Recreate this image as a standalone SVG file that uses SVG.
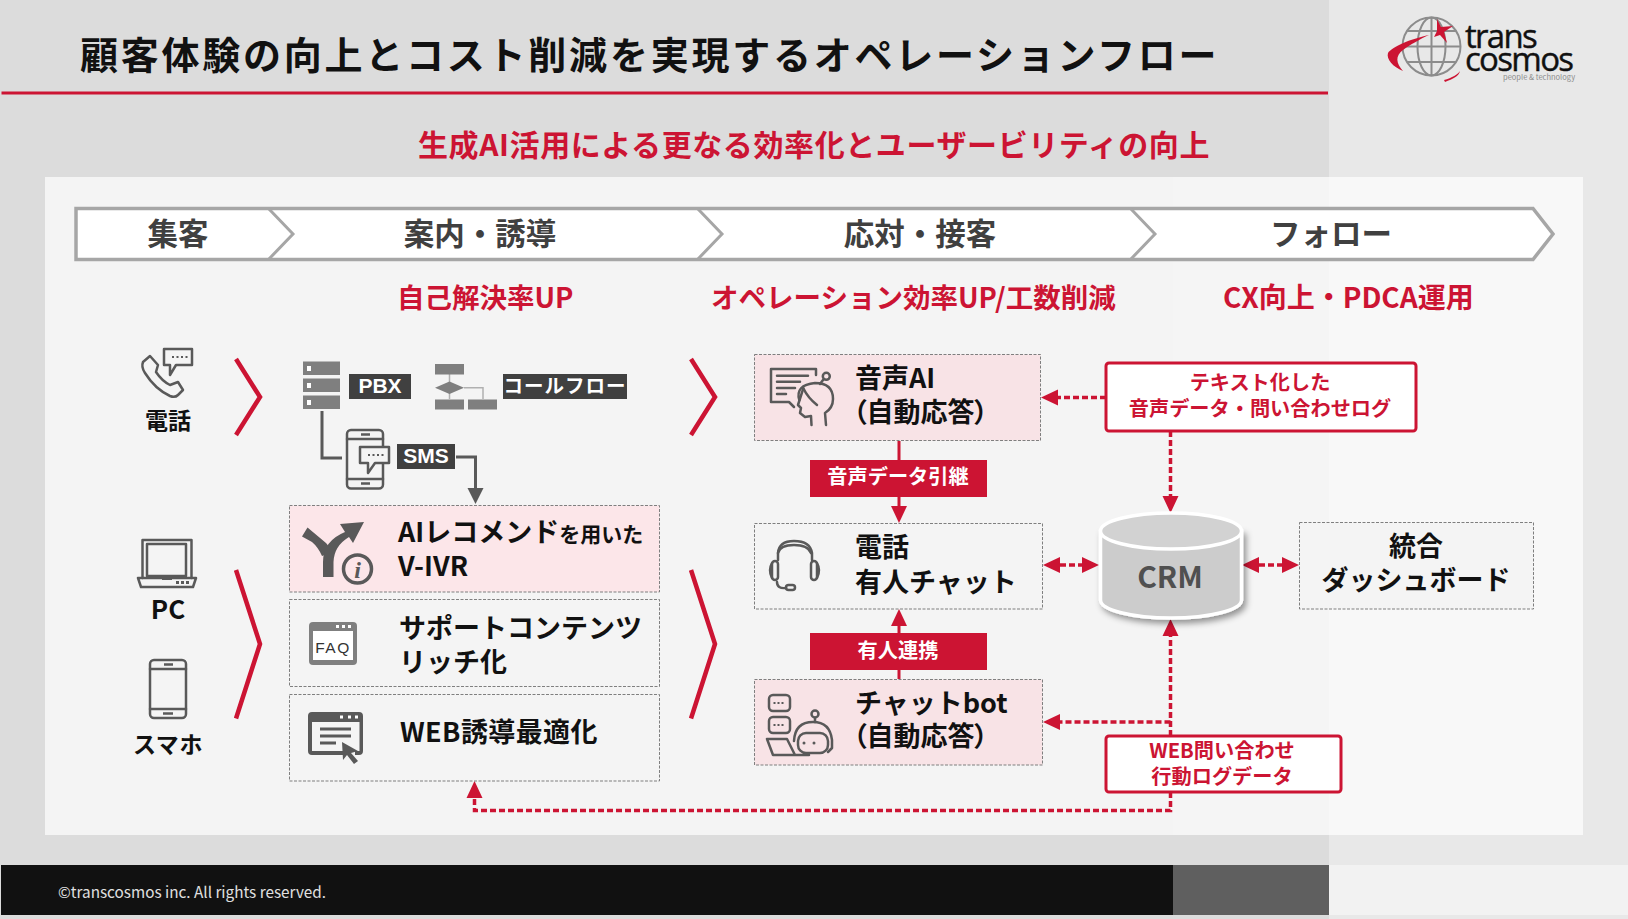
<svg xmlns="http://www.w3.org/2000/svg" width="1628" height="919" viewBox="0 0 1628 919">
<style>
text{font-family:"Noto Sans CJK JP","Noto Sans",sans-serif;font-weight:700}
.red{fill:#cc1433}
.n{font-size:27px;fill:#111}
.h{font-size:30.5px;fill:#404040;text-anchor:middle}
.s{font-size:27.5px;fill:#cc1433}
.c{font-size:20.2px;fill:#cc1433;text-anchor:middle}
.w{font-size:20.2px;fill:#fff;text-anchor:middle}
.tag{font-size:21px;fill:#fff;text-anchor:middle;font-family:"Liberation Sans",sans-serif}
.l{font-size:23px;fill:#111;text-anchor:middle}
.box{stroke:#7f7f7f;stroke-width:1;stroke-dasharray:3 1.5}
.pink{fill:#f8e3e6}
.pale{fill:#f4f4f4}
.call{fill:#fff;stroke:#cc1433;stroke-width:3}
.d{fill:none;stroke:#cc1433;stroke-width:3.5;stroke-dasharray:6 3}
.sr{fill:none;stroke:#cc1433;stroke-width:3}
.g{fill:none;stroke:#595959;stroke-width:3}
.chev{fill:none;stroke:#cc1433;stroke-width:4.5}
.ic{fill:none;stroke:#595959;stroke-width:2.5;stroke-linejoin:round;stroke-linecap:round}
.if{fill:#595959}
</style>
<defs>
<marker id="ar" markerUnits="userSpaceOnUse" markerWidth="18" markerHeight="18" refX="0" refY="9" orient="auto-start-reverse"><path d="M0,1 L17,9 L0,17 Z" fill="#cc1433"/></marker>
<marker id="ag" markerUnits="userSpaceOnUse" markerWidth="18" markerHeight="18" refX="0" refY="9" orient="auto"><path d="M0,1 L16,9 L0,17 Z" fill="#595959"/></marker>
<filter id="sh" x="-20%" y="-20%" width="140%" height="140%"><feDropShadow dx="3" dy="4" stdDeviation="3" flood-color="#000" flood-opacity="0.4"/></filter>
</defs>

<g id="background">
<rect width="1628" height="919" fill="#dcdcdc"/>
<rect x="1329" width="299" height="919" fill="#e8e8e8"/>
<rect x="45" y="177" width="1128" height="658" fill="#f4f4f4"/>
<rect x="1173" y="177" width="156" height="658" fill="#f5f5f5"/>
<rect x="1329" y="177" width="254" height="658" fill="#f8f8f8"/>
<rect x="1" y="865" width="1172" height="50" fill="#111"/>
<rect x="1173" y="865" width="156" height="50" fill="#5f5f5f"/>
<rect x="1329" y="865" width="299" height="50" fill="#f2f2f2"/>
<rect x="1.5" y="91.500" width="1326.500" height="3" fill="#cc1433"/>
<text x="58" y="898" style="font-size:15.3px;font-weight:400" fill="#e0e0e0">©transcosmos inc. All rights reserved.</text>
</g>

<g id="title">
<text x="80" y="69" style="font-size:38px;letter-spacing:2.76px" fill="#111">顧客体験の向上とコスト削減を実現するオペレーションフロー</text>
<text x="418" y="156" style="font-size:30px;letter-spacing:.6px" class="red">生成AI活用による更なる効率化とユーザービリティの向上</text>
</g>

<g id="logo">
<g fill="none" stroke="#8c8c8c" stroke-width="2">
<circle cx="1431.500" cy="46.500" r="29"/>
<ellipse cx="1431.500" cy="46.500" rx="14" ry="29"/>
<path d="M1431.500,17.500V75.500M1402.500,46.500H1460.500M1407,31H1456M1407,62H1456"/>
</g>
<path d="M1429,35 C1410,39 1392,47 1388,53 C1386,59 1393,67 1403,71 C1396,63 1395,56 1403,50 C1410,45 1420,39 1429,35 Z" fill="#cc1433"/>
<path d="M1445,82 C1453,79 1459,76 1460,71 C1458,74 1452,78 1444,80 Z" fill="#cc1433"/>
<path d="M1437,19 L1441,27 L1453,26 L1444,32 L1447,43 L1440,35 L1434,37 L1437,31 Z" fill="#cc1433"/>
<text x="1465" y="48" style="font-size:33px;font-weight:500;letter-spacing:-1.7px;font-family:'Open Sans',sans-serif" fill="#111" stroke="#111" stroke-width=".4">trans</text>
<text x="1465" y="71" style="font-size:33px;font-weight:500;letter-spacing:-1.7px;font-family:'Open Sans',sans-serif" fill="#111" stroke="#111" stroke-width=".4">cosmos</text>
<text x="1503" y="80" style="font-size:7.500px;font-weight:400" fill="#8c8c8c">people &amp; technology</text>
</g>

<g id="phase-bar">
<path d="M76,208.500 H1533 L1553,234 L1533,259.500 H76 Z" fill="#fff" stroke="#a6a6a6" stroke-width="3.500"/>
<path d="M269,209 L293,234 L269,259 M698,209 L722,234 L698,259 M1131,209 L1155,234 L1131,259" fill="none" stroke="#a6a6a6" stroke-width="3"/>
<text x="178" y="245" class="h">集客</text>
<text x="480" y="245" class="h">案内・誘導</text>
<text x="920" y="245" class="h">応対・接客</text>
<text x="1331" y="245" class="h">フォロー</text>
</g>

<g id="section-labels">
<text x="397" y="308" class="s">自己解決率UP</text>
<text x="711" y="308" class="s">オペレーション効率UP/工数削減</text>
<text x="1223" y="308" style="font-size:28px" class="red">CX向上・PDCA運用</text>
</g>

<g id="connectors">
<path class="g" d="M322,411 V458 H342"/>
<path class="g" d="M456,457 H475.500 V488" marker-end="url(#ag)"/>
<path class="sr" d="M899,441 V460"/>
<path class="sr" d="M899,497 V506" marker-end="url(#ar)"/>
<path class="sr" d="M899,670 V679"/>
<path class="sr" d="M899,633 V626" marker-end="url(#ar)"/>
<path class="d" d="M1106,397.500 H1058" marker-end="url(#ar)"/>
<path class="d" d="M1170.500,431 V496" marker-end="url(#ar)"/>
<path class="d" d="M1060,565 H1082" marker-start="url(#ar)" marker-end="url(#ar)"/>
<path class="d" d="M1259,565 H1282" marker-start="url(#ar)" marker-end="url(#ar)"/>
<path class="d" d="M1170.500,736 V636" marker-end="url(#ar)"/>
<path class="d" d="M1170.500,722 H1060" marker-end="url(#ar)"/>
<path class="d" d="M1170.500,792 V810.500 H474.500 V798" marker-end="url(#ar)"/>
</g>

<g id="chevrons">
<path class="chev" d="M236,359 L260,397 L236,435"/>
<path class="chev" d="M691,359 L715,397 L691,435"/>
<path class="chev" d="M236,570 L260,644 L236,718.500"/>
<path class="chev" d="M691,570 L715,644 L691,718.500"/>
</g>

<g id="node-phone">
<path class="ic" d="M150,356 L143,362 Q141,367 145,373 Q155,389 170,396 Q175,398 178,395 L183,390 L178,382 L170,385 Q162,381 156,372 L158,365 Z"/>
<path class="ic" d="M164,349 H192 V365 H176 L170,375 V365 H164 Z"/>
<path d="M172,357h2m2.500,0h2m2.500,0h2m2.500,0h2" stroke="#595959" stroke-width="2" fill="none"/>
<text x="168" y="429" class="l">電話</text>
</g>

<g id="node-pc">
<path class="ic" d="M142.500,578 V540 H191.500 V578"/>
<rect class="ic" x="147" y="544" width="39" height="32"/>
<path class="ic" d="M138,578 H196 L193,587 H141 Z"/>
<path class="if" d="M162,576h10v4h-10zM176,581h3v3h-3zM181,581h3v3h-3zM186,581h3v3h-3z"/>
<text x="168" y="619" class="l" style="font-size:26px">PC</text>
</g>

<g id="node-smartphone">
<rect class="ic" x="150" y="660" width="36" height="58" rx="4"/>
<path class="ic" d="M150,669 H186 M150,709 H186"/>
<path d="M164,664.500h9M163,713.500h10" stroke="#595959" stroke-width="2.500" fill="none"/>
<text x="168" y="753" class="l" style="letter-spacing:.6px">スマホ</text>
</g>

<g id="node-pbx">
<g fill="#7f7f7f"><rect x="303" y="361.500" width="37" height="13.500"/><rect x="303" y="378.500" width="37" height="13.500"/><rect x="303" y="395.500" width="37" height="13.500"/></g>
<g fill="#fff"><rect x="307" y="366" width="4" height="5"/><rect x="307" y="383" width="4" height="5"/><rect x="307" y="400" width="4" height="5"/></g>
<rect x="349" y="374" width="62" height="25" fill="#404040"/>
<text x="380" y="392.500" class="tag">PBX</text>
</g>

<g id="node-callflow">
<path d="M449.500,374V399M464,387.700H483V399" fill="none" stroke="#b0b0b0" stroke-width="1.500"/>
<g fill="#7f7f7f"><rect x="435" y="364" width="29" height="10.500"/><path d="M435,387.700 L449.500,381.500 L464,387.700 L449.500,394 Z"/><rect x="435" y="399.500" width="29" height="10"/><rect x="468" y="399.500" width="29" height="10"/></g>
<rect x="503" y="374" width="124" height="25" fill="#404040"/>
<text x="565" y="392.500" style="font-size:19.500px;letter-spacing:1px;fill:#fff;text-anchor:middle">コールフロー</text>
</g>

<g id="node-sms">
<rect class="ic" x="347" y="430" width="36" height="58.500" rx="4"/>
<path class="ic" d="M347,439 H383 M347,479 H383"/>
<path d="M361,434.500h9M361,483.500h9" stroke="#595959" stroke-width="2.500" fill="none"/>
<path d="M360,447 H389 V463 H375 L368,473 V463 H360 Z" fill="#f4f4f4" stroke="#595959" stroke-width="2.500" stroke-linejoin="round"/>
<path d="M368,455h2m2.500,0h2m2.500,0h2m2.500,0h2" stroke="#595959" stroke-width="2" fill="none"/>
<rect x="397" y="444" width="58" height="25" fill="#404040"/>
<text x="426" y="462.500" class="tag">SMS</text>
</g>

<g id="node-ivr">
<rect class="box" x="289.500" y="505.500" width="370" height="86.500" fill="#fce6e9"/>
<path class="if" d="M302,536.500 L307.500,527.500 L326,543 Q330,547 331,553 L322,556 Q318,547 312,542 Z"/>
<path class="if" d="M323,577 V562 Q323,541 345,532 L340,524 L364,522 L353,543 L349,537 Q334,546 333.500,562 V577 Z"/>
<circle cx="357.500" cy="569" r="14" fill="none" stroke="#595959" stroke-width="3.500"/>
<text x="357.500" y="578" style="font-size:24px;font-family:'Liberation Serif',serif;font-style:italic;text-anchor:middle" fill="#595959">i</text>
<text x="398" y="542" class="n">AIレコメンド<tspan style="font-size:21px">を用いた</tspan></text>
<text x="398" y="576" class="n">V-IVR</text>
</g>

<g id="node-faq">
<rect class="box pale" x="289.500" y="599.500" width="370" height="87"/>
<rect x="309" y="622" width="48" height="43" rx="4" fill="#7f7f7f"/>
<rect x="313" y="631" width="40" height="29" fill="#fff"/>
<path d="M336,625h3v3h-3zM342,625h3v3h-3zM348,625h3v3h-3z" fill="#fff"/>
<text x="333" y="653" style="font-size:15.500px;font-weight:400;text-anchor:middle;letter-spacing:1.500px;font-family:'Liberation Sans',sans-serif" fill="#333">FAQ</text>
<text x="399" y="638" class="n">サポートコンテンツ</text>
<text x="399" y="672" class="n">リッチ化</text>
</g>

<g id="node-web">
<rect class="box pale" x="289.500" y="694.500" width="370" height="86.500"/>
<path class="if" d="M312,712 H359 Q363,712 363,716 V751 Q363,755 359,755 H355 V751 H359.500 V722 H312 V751 H345 V755 H312 Q308,755 308,751 V716 Q308,712 312,712 Z"/>
<path d="M340,717h3M348,717h3M355,717h3" stroke="#fff" stroke-width="3" fill="none"/>
<path d="M320,729H351M320,736H351M320,743H336" stroke="#595959" stroke-width="3" fill="none"/>
<path class="if" d="M342,742 L358,751 L351,753 L358,761 L354,764 L347,755 L343,760 Z"/>
<text x="400" y="742" class="n" style="letter-spacing:.4px">WEB誘導最適化</text>
</g>

<g id="node-voice-ai">
<rect class="box pink" x="754.500" y="354.500" width="286" height="86"/>
<path class="ic" d="M816,375 V369 H771 V402 H789 L794,407"/>
<path class="ic" d="M777,375.700H808M777,381.700H800M777,388H795M777,394H786"/>
<path class="ic" d="M799.300,400 Q795,385 815,383 Q833,383 833,399 Q833,408 825,413 L826,425"/>
<path class="ic" d="M803.300,388.300 L798,405 L801,408 L800,413 L805,417 L811,416 L811.500,425"/>
<path class="ic" d="M803.300,388.300 Q808,398 817,405"/>
<circle class="ic" cx="826.300" cy="376.300" r="3.500"/>
<path class="ic" d="M823,380 L820,384"/>
<text x="855" y="388" class="n">音声AI</text>
<text x="853" y="422" class="n" style="font-feature-settings:'palt'">（自動応答）</text>
</g>

<g id="node-human">
<rect class="box pale" x="754.500" y="523.500" width="288" height="85.500"/>
<g class="ic"><path d="M778,560 V553 Q779,541 794,541 Q810,541 812,553 V560"/><path d="M778,553 Q780,545 794,545 Q808,545 811,553"/><rect x="772" y="561" width="6" height="19" rx="3"/><rect x="811" y="561" width="6" height="19" rx="3"/><path d="M772,563 Q768,570 772,578 M817,563 Q821,570 817,578"/><path d="M777,582 Q777,589 786,588"/><rect x="786" y="585" width="9" height="5" rx="2.500"/></g>
<text x="855" y="557" class="n">電話</text>
<text x="855" y="592" class="n">有人チャット</text>
</g>

<g id="node-bot">
<rect class="box pink" x="754.500" y="679.500" width="288" height="85.500"/>
<g class="ic"><rect x="769" y="695" width="21" height="16" rx="4"/><rect x="769" y="717" width="21" height="16" rx="4"/><path d="M767,739 H787 L795,755 H773 Z M795,755 H809"/><rect x="798" y="733" width="30" height="20" rx="8"/><path d="M794,741 Q795,722 813,722 Q830,722 832,740 L832,748 L828,752"/><circle cx="815" cy="714" r="3.500"/><path d="M815,718V722"/></g>
<path d="M773.500,703h2m2,0h2m2,0h2M773.500,725h2m2,0h2m2,0h2" stroke="#595959" stroke-width="2" fill="none"/>
<circle class="if" cx="804" cy="743" r="1.500"/><circle class="if" cx="814" cy="743" r="1.500"/>
<text x="855" y="713" class="n">チャットbot</text>
<text x="853" y="746" class="n" style="font-feature-settings:'palt'">（自動応答）</text>
</g>

<g id="tag-handover">
<rect x="810" y="460" width="177" height="37" fill="#cc1433"/>
<text x="898" y="484" class="w">音声データ引継</text>
</g>
<g id="tag-human-link">
<rect x="810" y="633" width="177" height="37" fill="#cc1433"/>
<text x="898" y="658" class="w">有人連携</text>
</g>

<g id="callout-log">
<rect class="call" x="1106" y="363" width="310" height="68" rx="3"/>
<text x="1260" y="390" class="c">テキスト化した</text>
<text x="1260" y="416" class="c">音声データ・問い合わせログ</text>
</g>
<g id="callout-web">
<rect class="call" x="1106" y="736" width="235" height="56" rx="3"/>
<text x="1222" y="758" class="c">WEB問い合わせ</text>
<text x="1222" y="784" class="c">行動ログデータ</text>
</g>

<g id="node-crm">
<path d="M1100.500,531 V600 A70.500,18 0 0 0 1241.500,600 V531 Z" fill="#cccccc" stroke="#fff" stroke-width="3.500" filter="url(#sh)"/>
<ellipse cx="1171" cy="531" rx="70.500" ry="18" fill="#d2d2d2" stroke="#fff" stroke-width="3.500"/>
<text x="1170" y="588" style="font-size:30px;text-anchor:middle" fill="#505050">CRM</text>
</g>

<g id="node-dashboard">
<rect class="box pale" x="1299.500" y="522.500" width="234" height="86.500"/>
<text x="1416" y="556" class="n" style="text-anchor:middle">統合</text>
<text x="1416" y="590" class="n" style="text-anchor:middle">ダッシュボード</text>
</g>
</svg>
